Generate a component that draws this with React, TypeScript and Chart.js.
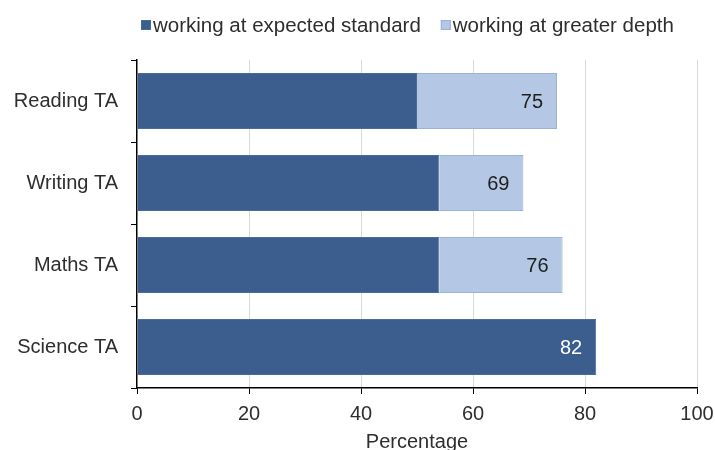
import React, { useEffect, useRef } from "react";
import { Chart, registerables } from "chart.js";

Chart.register(...registerables);

const categories = ["Reading TA", "Writing TA", "Maths TA", "Science TA"];
const expectedStandard = [50, 54, 54, 82];
const greaterDepth = [25, 15, 22, 0];
const seriesNames = ["working at expected standard", "working at greater depth"];
const xTicks = [0, 20, 40, 60, 80, 100];
const axisTitle = "Percentage";

const DARK = "#3b5e8f";
const LIGHT = "#b4c8e6";
const FONT = "'Liberation Sans', Arial, sans-serif";
const TEXT = "#2e2e2e";

const labelPlugin = {
  id: "totals",
  afterDatasetsDraw(chart: any) {
    const ctx = chart.ctx;
    const m0 = chart.getDatasetMeta(0);
    const m1 = chart.getDatasetMeta(1);
    ctx.save();
    ctx.font = `20px ${FONT}`;
    ctx.textAlign = "right";
    ctx.textBaseline = "middle";
    categories.forEach((_, i) => {
      const total = expectedStandard[i] + greaterDepth[i];
      const useLight = greaterDepth[i] > 0;
      const el = useLight ? m1.data[i] : m0.data[i];
      ctx.fillStyle = useLight ? "#1e1e1e" : "#ffffff";
      ctx.fillText(String(total), el.x - 14, el.y + 1);
    });
    ctx.restore();
  },
};

const legendPlugin = {
  id: "customLegend",
  afterDraw(chart: any) {
    const ctx = chart.ctx;
    const colors = [DARK, LIGHT];
    const borders = ["#4a6c9b", "#9ab2d8"];
    ctx.save();
    ctx.font = `20.5px ${FONT}`;
    ctx.textBaseline = "middle";
    ctx.textAlign = "left";
    let x = chart.chartArea.left + 4;
    const y = 25;
    seriesNames.forEach((name, i) => {
      ctx.fillStyle = colors[i];
      ctx.fillRect(x, y - 5, 10, 10);
      ctx.strokeStyle = borders[i];
      ctx.lineWidth = 1;
      ctx.strokeRect(x + 0.5, y - 4.5, 9, 9);
      ctx.fillStyle = TEXT;
      ctx.fillText(name, x + 12, y + 1);
      x += 12 + ctx.measureText(name).width + 20;
    });
    ctx.restore();
  },
};

export default function App() {
  const ref = useRef<HTMLCanvasElement>(null);
  useEffect(() => {
    if (!ref.current) return;
    const chart = new Chart(ref.current, {
      type: "bar",
      data: {
        labels: categories,
        datasets: [
          {
            label: seriesNames[0],
            data: expectedStandard,
            backgroundColor: DARK,
            borderColor: "#4a6c9b",
            borderWidth: 1,
            categoryPercentage: 1,
            barPercentage: 0.68,
          },
          {
            label: seriesNames[1],
            data: greaterDepth,
            backgroundColor: LIGHT,
            borderColor: "#9ab2d8",
            borderWidth: 1,
            categoryPercentage: 1,
            barPercentage: 0.68,
          },
        ],
      },
      options: {
        indexAxis: "y",
        responsive: false,
        animation: false,
        layout: { padding: { top: 60, right: 18, left: 0, bottom: 0 } },
        plugins: {
          legend: { display: false },
          tooltip: { enabled: false },
        },
        scales: {
          x: {
            stacked: true,
            min: 0,
            max: 100,
            afterBuildTicks(scale: any) {
              scale.ticks = xTicks.map((v) => ({ value: v }));
            },
            afterFit(scale: any) {
              scale.height = 62;
              scale.paddingLeft = 0;
              scale.paddingRight = 0;
            },
            ticks: {
              color: TEXT,
              font: { family: FONT, size: 20 },
              padding: 8,
              maxRotation: 0,
            },
            grid: {
              color: (c: any) => (c.tick && c.tick.value === 0 ? "rgba(0,0,0,0)" : "#d9d9d9"),
              tickColor: "#000000",
              tickLength: 6,
              lineWidth: 1,
            },
            border: { color: "#000000", width: 1.5 },
            title: {
              display: true,
              text: axisTitle,
              color: TEXT,
              font: { family: FONT, size: 20 },
              padding: { top: 0, bottom: -4 },
            },
          },
          y: {
            stacked: true,
            afterFit(scale: any) {
              scale.width = 137;
              scale.paddingTop = 0;
              scale.paddingBottom = 0;
            },
            ticks: {
              color: TEXT,
              font: { family: FONT, size: 20 },
              padding: 13,
            },
            grid: {
              offset: true,
              drawOnChartArea: false,
              tickColor: "#000000",
              tickLength: 6,
            },
            border: { color: "#000000", width: 1.5 },
          },
        },
      },
      plugins: [labelPlugin, legendPlugin],
    } as any);
    return () => chart.destroy();
  }, []);
  return (
    <div style={{ position: "absolute", left: 0, top: 0, width: 715, height: 450, background: "#fff" }}>
      <canvas ref={ref} width={715} height={450} style={{ width: 715, height: 450, display: "block" }} />
    </div>
  );
}
